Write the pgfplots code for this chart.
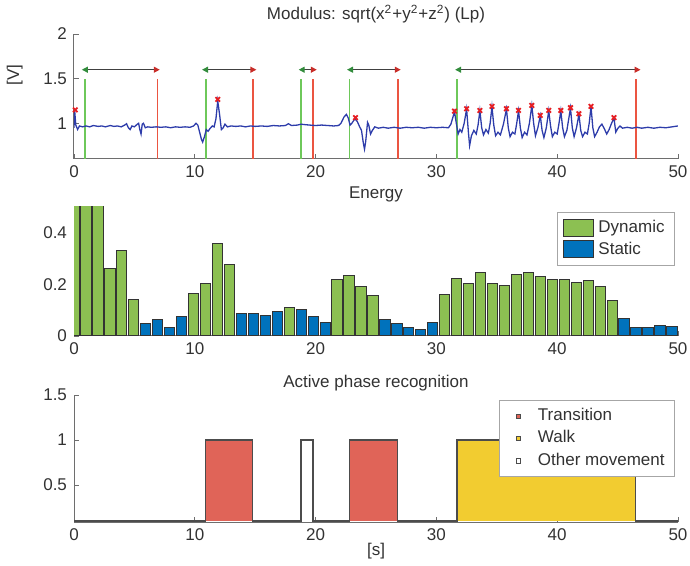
\documentclass[border=0pt]{standalone}
\usepackage{fontspec}
\setmainfont{Liberation Sans}
\usepackage{pgfplots}
\pgfplotsset{compat=1.18}
\usetikzlibrary{arrows.meta}

\definecolor{sigblue}{RGB}{45,60,170}
\definecolor{mkred}{RGB}{230,30,35}
\definecolor{vgreen}{RGB}{110,200,90}
\definecolor{vred}{RGB}{235,85,65}
\definecolor{argreen}{RGB}{50,140,60}
\definecolor{arred}{RGB}{200,45,40}
\definecolor{dyn}{RGB}{140,192,82}
\definecolor{stat}{RGB}{0,114,188}
\definecolor{trans}{RGB}{224,100,88}
\definecolor{walk}{RGB}{242,204,48}
\definecolor{axgray}{RGB}{110,110,110}
\definecolor{txt}{RGB}{50,50,50}

\newcommand{\fs}{\fontsize{8.5}{10}\selectfont}

\pgfplotsset{
  panel/.style={
    scale only axis, width=302pt, anchor=north west,
    xmin=0, xmax=50, xtick={0,10,...,50},
    axis x line*=bottom, axis y line*=left,
    axis line style={axgray, line width=0.5pt},
    tick align=inside, major tick length=2.5pt,
    tick style={axgray, line width=0.4pt},
    every tick label/.append style={font=\fs, text=txt},
    /pgf/number format/assume math mode=true,
    title style={font=\fs, text=txt, at={(axis description cs:0.5,1)}, anchor=center},
    label style={font=\fs, text=txt},
    legend cell align=left,
  },
  dblarrow/.style={draw=black!75, line width=0.6pt,
    arrows={Triangle[color=argreen,length=3pt,width=3pt]-Triangle[color=arred,length=3pt,width=3pt]}},
  gline/.style={vgreen, line width=0.85pt},
  rline/.style={vred, line width=0.85pt},
}

\begin{document}
\begin{tikzpicture}
\useasboundingbox (0,0) rectangle (345pt,-283pt);

% ---- top: modulus signal
\begin{axis}[panel, at={(37pt,-17pt)}, height=62.5pt,
  ymin=0.6, ymax=2, ytick={1,1.5,2},
  title={Modulus: sqrt(x\textsuperscript{2}+y\textsuperscript{2}+z\textsuperscript{2}) (Lp)},
  title style={yshift=4pt},
  ylabel={[V]}, ylabel style={at={(axis description cs:-0.098,0.67)}, anchor=center}]

\addplot[gline] coordinates {(0.9,0.6) (0.9,1.5)};
\addplot[gline] coordinates {(10.9,0.6) (10.9,1.5)};
\addplot[gline] coordinates {(18.8,0.6) (18.8,1.5)};
\addplot[gline] coordinates {(22.8,0.6) (22.8,1.5)};
\addplot[gline] coordinates {(31.7,0.6) (31.7,1.5)};
\addplot[rline] coordinates {(6.9,0.6) (6.9,1.5)};
\addplot[rline] coordinates {(14.8,0.6) (14.8,1.5)};
\addplot[rline] coordinates {(19.8,0.6) (19.8,1.5)};
\addplot[rline] coordinates {(26.8,0.6) (26.8,1.5)};
\addplot[rline] coordinates {(46.5,0.6) (46.5,1.5)};

\addplot[dblarrow] coordinates {(0.65,1.6) (7.1,1.6)};
\addplot[dblarrow] coordinates {(10.6,1.6) (15.1,1.6)};
\addplot[dblarrow] coordinates {(18.6,1.6) (20.1,1.6)};
\addplot[dblarrow] coordinates {(22.6,1.6) (27.05,1.6)};
\addplot[dblarrow] coordinates {(31.55,1.6) (46.9,1.6)};

\addplot[sigblue, line width=0.65pt] coordinates {
(0,0.95) (0.05,1.15) (0.15,0.98) (0.3,0.93) (0.45,0.97) (0.7,0.96) (1,0.97) (1.3,0.96)
(1.6,0.975) (2,0.965) (2.3,0.97) (2.6,0.96) (3,0.975) (3.3,0.965) (3.6,0.97) (3.9,0.96)
(4.2,0.98) (4.35,0.995) (4.5,0.95) (4.65,0.93) (4.8,0.97) (5.0,0.96) (5.2,0.985) (5.35,1.0)
(5.45,0.93) (5.55,0.88) (5.65,0.99) (5.75,1.0) (5.9,0.95) (6.1,0.96) (6.4,0.955) (6.8,0.96)
(7.2,0.955) (7.6,0.96) (8,0.95) (8.4,0.96) (8.8,0.955) (9.2,0.96) (9.6,0.955) (9.9,0.97)
(10.1,1.0) (10.25,0.98) (10.4,0.9) (10.55,0.82) (10.65,0.79) (10.8,0.85) (10.95,0.93)
(11.1,0.91) (11.25,0.94) (11.45,0.97) (11.6,0.96) (11.75,1.05) (11.9,1.25) (12.05,1.1)
(12.2,0.93) (12.35,0.95) (12.5,0.99) (12.7,0.96) (13,0.97) (13.4,0.965) (13.8,0.97)
(14.2,0.96) (14.6,0.97) (15,0.965) (15.5,0.97) (16,0.965) (16.5,0.975) (17,0.97)
(17.5,0.975) (17.75,0.995) (18,0.975) (18.5,0.98) (18.8,0.99) (19.1,0.985) (19.5,0.98)
(20,0.975) (20.5,0.98) (21,0.975) (21.5,0.97) (21.9,0.975) (22.1,1.0) (22.35,1.07)
(22.55,1.1) (22.7,1.06) (22.85,0.98) (23.0,1.0) (23.25,1.05) (23.45,1.02) (23.65,0.96)
(23.8,0.92) (23.95,0.78) (24.05,0.71) (24.15,0.8) (24.3,1.01) (24.4,0.98) (24.55,0.88)
(24.7,0.92) (24.9,0.96) (25.2,0.945) (25.6,0.955) (26,0.945) (26.5,0.955) (27,0.945)
(27.5,0.955) (28,0.95) (28.5,0.955) (29,0.945) (29.5,0.955) (30,0.95) (30.5,0.955)
(31,0.95) (31.2,0.99) (31.5,1.13) (31.65,1.0) (31.8,0.88) (31.95,0.93) (32.1,0.9)
(32.3,1.0) (32.5,1.16) (32.65,0.9) (32.75,0.75) (32.9,0.86) (33.1,0.92) (33.3,0.88)
(33.45,0.98) (33.6,1.14) (33.75,0.95) (33.9,0.87) (34.1,0.93) (34.3,0.89) (34.45,1.0)
(34.6,1.185) (34.75,0.98) (34.9,0.86) (35.1,0.9) (35.3,0.87) (35.55,0.99) (35.8,1.16)
(35.95,0.95) (36.1,0.85) (36.3,0.9) (36.5,0.88) (36.65,1.0) (36.8,1.14) (36.95,0.95)
(37.1,0.84) (37.3,0.9) (37.5,0.87) (37.7,1.0) (37.9,1.2) (38.05,1.0) (38.2,0.86)
(38.4,0.95) (38.6,1.085) (38.75,0.92) (38.9,0.84) (39.1,0.95) (39.3,1.14) (39.45,0.97)
(39.6,0.85) (39.8,0.9) (40.0,0.88) (40.15,1.0) (40.3,1.14) (40.45,0.95) (40.6,0.85)
(40.8,0.92) (41.1,1.17) (41.25,0.95) (41.4,0.85) (41.6,0.95) (41.8,1.1) (41.95,0.92)
(42.1,0.85) (42.3,0.9) (42.5,0.88) (42.65,1.0) (42.8,1.185) (42.95,0.95) (43.1,0.85)
(43.3,0.9) (43.5,0.96) (43.7,0.99) (43.9,0.94) (44.1,0.88) (44.3,0.93) (44.5,1.0)
(44.7,1.06) (44.85,0.9) (45.0,0.94) (45.2,0.97) (45.4,0.945) (45.8,0.955) (46.2,0.945)
(46.6,0.955) (47,0.945) (47.5,0.955) (48,0.945) (48.5,0.955) (49,0.95) (49.5,0.96) (50,0.97)};

\addplot[only marks, mark=x, mark size=1.6pt, mkred, mark options={line width=0.9pt}] coordinates {
(0.1,1.15) (11.9,1.267) (23.3,1.063)
(31.5,1.137) (32.5,1.163) (33.6,1.144) (34.6,1.189) (35.8,1.163) (36.8,1.144) (37.9,1.2)
(38.6,1.089) (39.3,1.144) (40.3,1.144) (41.1,1.174) (41.8,1.107) (42.8,1.189) (44.7,1.063)};
\end{axis}

% ---- middle: energy bars
\begin{axis}[panel, at={(37pt,-103.5pt)}, height=64.5pt,
  ymin=0, ymax=0.5, ytick={0,0.2,0.4},
  title={Energy}, title style={yshift=0.5pt},
  legend style={at={(axis description cs:0.995,0.961)}, anchor=north east,
    draw=gray!70, line width=0.4pt, font=\fs, nodes={text=txt}, row sep=-1pt}]

\addplot[ybar, bar width=0.85, bar shift=0pt, fill=dyn, draw=black!80, line width=0.5pt,
  legend image code/.code={\draw[fill=dyn, draw=black!80, line width=0.5pt] (0pt,-4.25pt) rectangle (15pt,4.25pt);}]
coordinates {
(0,0.6) (0.99,0.6) (1.98,0.6) (2.97,0.263) (3.96,0.33) (4.95,0.141)
(9.9,0.166) (10.89,0.204) (11.88,0.357) (12.87,0.276) (17.82,0.112)
(21.78,0.218) (22.77,0.233) (23.76,0.193) (24.75,0.158)
(30.69,0.161) (31.68,0.224) (32.67,0.203) (33.66,0.245) (34.65,0.203) (35.64,0.196)
(36.63,0.238) (37.62,0.248) (38.61,0.229) (39.6,0.218) (40.59,0.218) (41.58,0.208)
(42.57,0.216) (43.56,0.191) (44.55,0.137)};
\addlegendentry{Dynamic}

\addplot[ybar, bar width=0.85, bar shift=0pt, fill=stat, draw=black!80, line width=0.5pt,
  legend image code/.code={\draw[fill=stat, draw=black!80, line width=0.5pt] (0pt,-4.25pt) rectangle (15pt,4.25pt);}]
coordinates {
(5.94,0.047) (6.93,0.063) (7.92,0.033) (8.91,0.075)
(13.86,0.086) (14.85,0.086) (15.84,0.08) (16.83,0.095) (18.81,0.102) (19.8,0.076) (20.79,0.052)
(25.74,0.065) (26.73,0.05) (27.72,0.033) (28.71,0.026) (29.7,0.052)
(45.54,0.067) (46.53,0.033) (47.52,0.033) (48.51,0.04) (49.5,0.035)};
\addlegendentry{Static}
\end{axis}

% ---- bottom: active phase recognition
\begin{axis}[panel, at={(37pt,-197.5pt)}, height=63.5pt,
  ymin=0.09, ymax=1.5, ytick={0.5,1,1.5},
  title={Active phase recognition}, title style={yshift=0pt},
  xlabel={[s]}, xlabel style={at={(axis description cs:0.5,0)}, anchor=center, yshift=-14.5pt},
  legend style={at={(axis description cs:0.995,0.961)}, anchor=north east,
    draw=gray!70, line width=0.4pt, font=\fs, nodes={text=txt}, row sep=-0.5pt}]

\addplot[fill=trans, draw=none, forget plot] coordinates {(10.9,0.1) (10.9,1) (14.8,1) (14.8,0.1)};
\addplot[fill=white, draw=none, forget plot] coordinates {(18.8,0.1) (18.8,1) (19.8,1) (19.8,0.1)};
\addplot[fill=trans, draw=none, forget plot] coordinates {(22.8,0.1) (22.8,1) (26.8,1) (26.8,0.1)};
\addplot[fill=walk, draw=none, forget plot] coordinates {(31.7,0.1) (31.7,1) (46.5,1) (46.5,0.1)};
\addplot[draw=black!70, line width=0.7pt, forget plot] coordinates {
(0,0.1) (10.9,0.1) (10.9,1) (14.8,1) (14.8,0.1) (18.8,0.1) (18.8,1) (19.8,1) (19.8,0.1)
(22.8,0.1) (22.8,1) (26.8,1) (26.8,0.1) (31.7,0.1) (31.7,1) (46.5,1) (46.5,0.1) (50,0.1)};

\addlegendimage{legend image code/.code={\path (0pt,0pt) (14pt,0pt);
  \draw[fill=trans, draw=black!70, line width=0.3pt] (5.4pt,-1.1pt) rectangle (7.6pt,1.1pt);}}
\addlegendentry{Transition}
\addlegendimage{legend image code/.code={\path (0pt,0pt) (14pt,0pt);
  \draw[fill=walk, draw=black!70, line width=0.3pt] (5.4pt,-1.1pt) rectangle (7.6pt,1.1pt);}}
\addlegendentry{Walk}
\addlegendimage{legend image code/.code={\path (0pt,0pt) (14pt,0pt);
  \draw[fill=white, draw=black!70, line width=0.3pt] (5.4pt,-1.1pt) rectangle (7.6pt,1.1pt);}}
\addlegendentry{Other movement}
\end{axis}
\end{tikzpicture}
\end{document}
